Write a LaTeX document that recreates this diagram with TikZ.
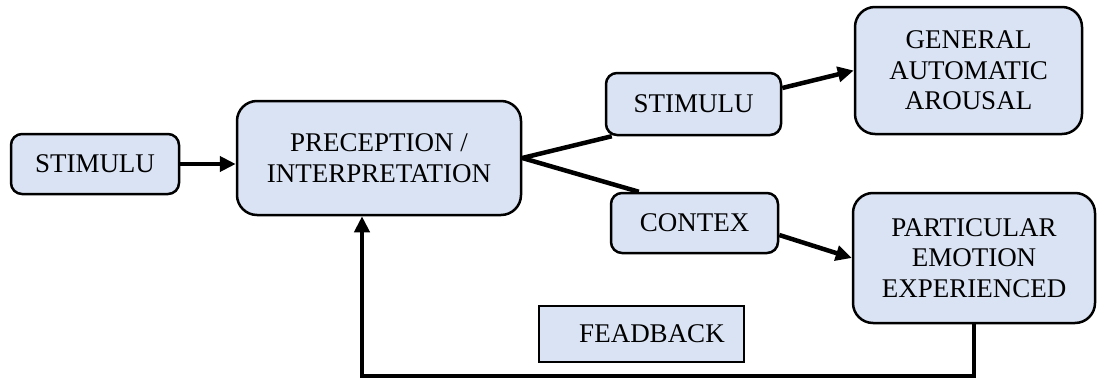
\documentclass[tikz,border=0pt]{standalone}
\usepackage{fontspec}
\setmainfont{Liberation Serif}
\usetikzlibrary{arrows.meta,calc}

\definecolor{boxfill}{HTML}{DAE3F3}

\tikzset{
  boxfont/.style={font=\fontsize{27}{30.5}\selectfont},
  rbox/.style={draw=black, line width=2.5pt, fill=boxfill, rounded corners=#1,
    align=center, inner sep=0pt, boxfont},
  rbox/.default=11pt,
  sbox/.style={draw=black, line width=2.5pt, fill=boxfill, inner sep=0pt},
  link/.style={line width=4.5pt},
  flow/.style={line width=4.5pt, -{Triangle[length=16pt,width=15pt]}},
}

\begin{document}
\begin{tikzpicture}[x=1pt,y=-1pt]
  \useasboundingbox (0,0) rectangle (1097,380);

  % boxes
  \node[rbox, minimum width=168pt, minimum height=60pt] (stimA) at (95,164) {STIMULU};
  \node[rbox=20pt, minimum width=284pt, minimum height=114pt] (perc) at (379,158)
    {PRECEPTION /\\INTERPRETATION};
  \node[rbox, minimum width=175pt, minimum height=62pt] (stimB) at (693.5,104) {STIMULU};
  \node[rbox, minimum width=167pt, minimum height=60pt] (ctx) at (694.5,223) {CONTEX};
  \node[rbox=20pt, minimum width=227pt, minimum height=127pt] (gen) at (968.5,70.5)
    {GENERAL\\AUTOMATIC\\AROUSAL};
  \node[rbox=20pt, minimum width=242pt, minimum height=130pt] (part) at (974,258)
    {PARTICULAR\\EMOTION\\EXPERIENCED};
  \node[sbox, minimum width=205pt, minimum height=56pt] (fb) at (641.5,334) {};
  \node[boxfont] (fbtext) at (652,334) {FEADBACK};

  % connectors
  \draw[flow] (stimA.east) -- (stimA.east -| perc.west);
  \draw[link] (perc.east) -- ([xshift=7pt]stimB.south west);
  \draw[link] (perc.east) -- ([xshift=29pt]ctx.north west);
  \draw[flow] ([yshift=16pt]stimB.east) -- (gen.west);
  \draw[flow] ([yshift=-12pt]ctx.east) -- (part.west);
  \coordinate (fbturn) at (part.south |- 0,376);
  \draw[flow, line join=miter] (part.south) -- (fbturn) -| ([xshift=-17pt]perc.south);
\end{tikzpicture}
\end{document}
